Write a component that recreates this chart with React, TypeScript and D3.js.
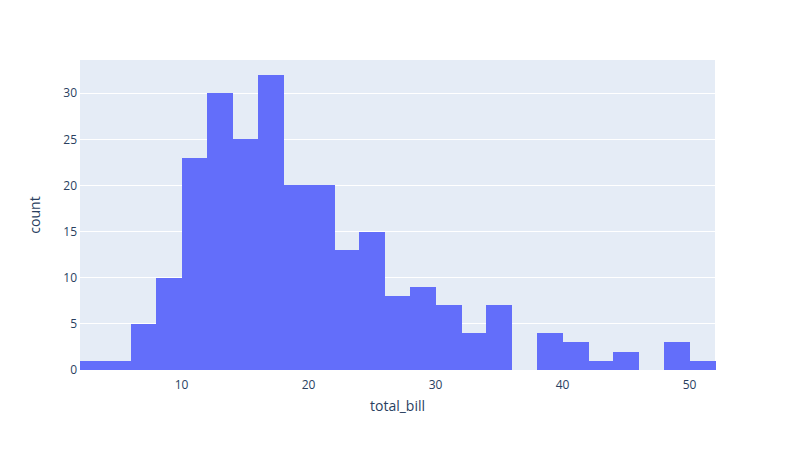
import { useMemo } from 'react'
import { scaleLinear } from 'd3'

// Histogram of total_bill, bin width 2 starting at 2
const BIN_STARTS = [2, 4, 6, 8, 10, 12, 14, 16, 18, 20, 22, 24, 26, 28, 30, 32, 34, 36, 38, 40, 42, 44, 46, 48, 50]
const COUNTS = [1, 1, 5, 10, 23, 30, 25, 32, 20, 20, 13, 15, 8, 9, 7, 4, 7, 0, 4, 3, 1, 2, 0, 3, 1]
const BIN_WIDTH = 2
const X_TICKS = [10, 20, 30, 40, 50]
const Y_TICKS = [0, 5, 10, 15, 20, 25, 30]

const W = 795
const H = 450
const M = { l: 80, r: 80, t: 60, b: 80 }
const FONT = '"Open Sans", verdana, arial, sans-serif'
const INK = '#2a3f5f'

export default function App() {
  const { x, y } = useMemo(() => {
    const maxCount = Math.max(...COUNTS)
    return {
      x: scaleLinear().domain([2, 52]).range([M.l, W - M.r]),
      y: scaleLinear().domain([0, maxCount * 1.05]).range([H - M.b, M.t]),
    }
  }, [])

  return (
    <svg
      width={W}
      height={H}
      style={{ position: 'absolute', left: 0, top: 0, background: '#fff' }}
      fontFamily={FONT}
    >
      <rect x={M.l} y={M.t} width={W - M.l - M.r} height={H - M.t - M.b} fill="#e5ecf6" />

      {Y_TICKS.filter((t) => t > 0).map((t) => (
        <line key={t} x1={M.l} x2={W - M.r} y1={y(t)} y2={y(t)} stroke="#fff" strokeWidth={1} shapeRendering="crispEdges" />
      ))}

      <g shapeRendering="crispEdges">
        {BIN_STARTS.map((b, i) =>
          COUNTS[i] > 0 ? (
            <rect
              key={b}
              x={x(b)}
              y={y(COUNTS[i])}
              width={x(b + BIN_WIDTH) - x(b) + 0.5}
              height={y(0) - y(COUNTS[i])}
              fill="#636efa"
            />
          ) : null
        )}
      </g>

      {Y_TICKS.map((t) => (
        <text key={t} x={M.l - 3} y={y(t)} dy="0.35em" textAnchor="end" fontSize={12} fill={INK}>
          {t}
        </text>
      ))}
      {X_TICKS.map((t) => (
        <text key={t} x={x(t)} y={H - M.b + 19} textAnchor="middle" fontSize={12} fill={INK}>
          {t}
        </text>
      ))}

      <text x={(M.l + W - M.r) / 2} y={H - M.b + 41} textAnchor="middle" fontSize={14} fill={INK}>
        total_bill
      </text>
      <text
        x={40}
        y={(M.t + H - M.b) / 2}
        textAnchor="middle"
        fontSize={14}
        fill={INK}
        transform={`rotate(-90 40 ${(M.t + H - M.b) / 2})`}
      >
        count
      </text>
    </svg>
  )
}
